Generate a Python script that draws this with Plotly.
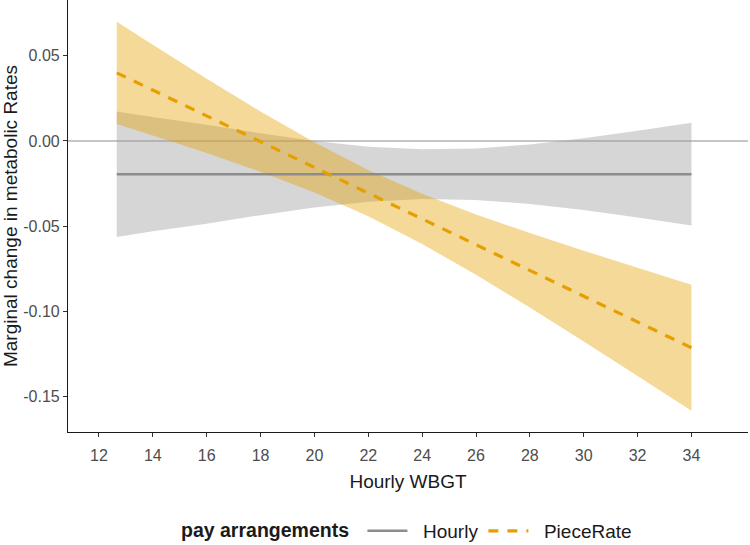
import plotly.graph_objects as go

# Marginal effect of hourly WBGT on metabolic rate, by pay arrangement
wbgt = [12.66, 14, 16, 18, 20, 22, 24, 26, 28, 30, 32, 34]

hourly_fit = [-0.0195] * len(wbgt)
hourly_hi = [0.0173, 0.0140, 0.0095, 0.0045, 0.0000, -0.0034,
             -0.0049, -0.0044, -0.0021, 0.0015, 0.0059, 0.0106]
hourly_lo = [-0.0563, -0.0530, -0.0485, -0.0435, -0.0390, -0.0356,
             -0.0341, -0.0346, -0.0369, -0.0405, -0.0449, -0.0496]

piece_fit = [0.0399, 0.0298, 0.0147, -0.0004, -0.0155, -0.0306,
             -0.0457, -0.0608, -0.0758, -0.0909, -0.1061, -0.1212]
piece_hi = [0.0699, 0.0564, 0.0365, 0.0173, -0.0008, -0.0171,
            -0.0310, -0.0431, -0.0540, -0.0643, -0.0744, -0.0843]
piece_lo = [0.0099, 0.0032, -0.0071, -0.0181, -0.0302, -0.0441,
            -0.0604, -0.0785, -0.0976, -0.1175, -0.1378, -0.1581]

x_ticks = [12, 14, 16, 18, 20, 22, 24, 26, 28, 30, 32, 34]
y_ticks = [0.05, 0.0, -0.05, -0.10, -0.15]
y_labels = ["0.05", "0.00", "-0.05", "-0.10", "-0.15"]

GREY_LINE = "#8c8c8c"
GOLD = "#E69F00"
FONT = "Liberation Sans, Arial, sans-serif"
NB = "\u00a0"  # padding in legend labels, like ggplot's key spacing


def ribbon(x, lo, hi, color):
    return go.Scatter(x=list(x) + list(x)[::-1], y=list(hi) + list(lo)[::-1],
                      fill="toself", fillcolor=color, mode="none",
                      hoverinfo="skip", showlegend=False)


fig = go.Figure()
fig.add_trace(ribbon(wbgt, hourly_lo, hourly_hi, "rgba(153,153,153,0.4)"))
fig.add_trace(ribbon(wbgt, piece_lo, piece_hi, "rgba(230,159,0,0.4)"))
fig.add_trace(go.Scatter(x=wbgt, y=hourly_fit, mode="lines",
                         name=NB * 2 + "Hourly",
                         line=dict(color=GREY_LINE, width=2.5)))
fig.add_trace(go.Scatter(x=wbgt, y=piece_fit, mode="lines",
                         name=NB * 2 + "PieceRate",
                         line=dict(color=GOLD, width=3.2, dash="10px,9px")))

fig.add_shape(type="line", xref="paper", x0=0, x1=1, yref="y", y0=0, y1=0,
              line=dict(color="#b3b3b3", width=1.6), layer="below")

axis_common = dict(showgrid=False, zeroline=False, showline=True,
                   linecolor="#1a1a1a", linewidth=1.1, ticks="outside",
                   ticklen=4, tickcolor="#333333", automargin=False,
                   tickfont=dict(size=16, color="#4d4d4d", family=FONT))

fig.update_xaxes(range=[10.85, 36.1], tickvals=x_ticks, ticklabelstandoff=5,
                 title=dict(text="Hourly WBGT", font=dict(size=19, color="#1a1a1a"),
                            standoff=11),
                 **axis_common)
fig.update_yaxes(range=[-0.1706, 0.0826], tickvals=y_ticks, ticktext=y_labels,
                 title=dict(text="Marginal change in metabolic Rates",
                            font=dict(size=19, color="#1a1a1a"), standoff=8),
                 **axis_common)

fig.update_layout(
    width=750, height=545,
    margin=dict(l=68, r=2, t=0, b=113, autoexpand=False),
    paper_bgcolor="white", plot_bgcolor="white",
    font=dict(family=FONT, size=19, color="#1a1a1a"),
    legend=dict(orientation="h", x=0.5, xanchor="center", y=-0.229,
                yanchor="middle",
                title=dict(text="<b>pay arrangements</b>" + NB, side="left",
                           font=dict(size=19.5)),
                font=dict(size=19), itemwidth=40),
)

fig.write_html("out.html", config={"displayModeBar": False},
               post_script="document.body.style.margin='0';")
